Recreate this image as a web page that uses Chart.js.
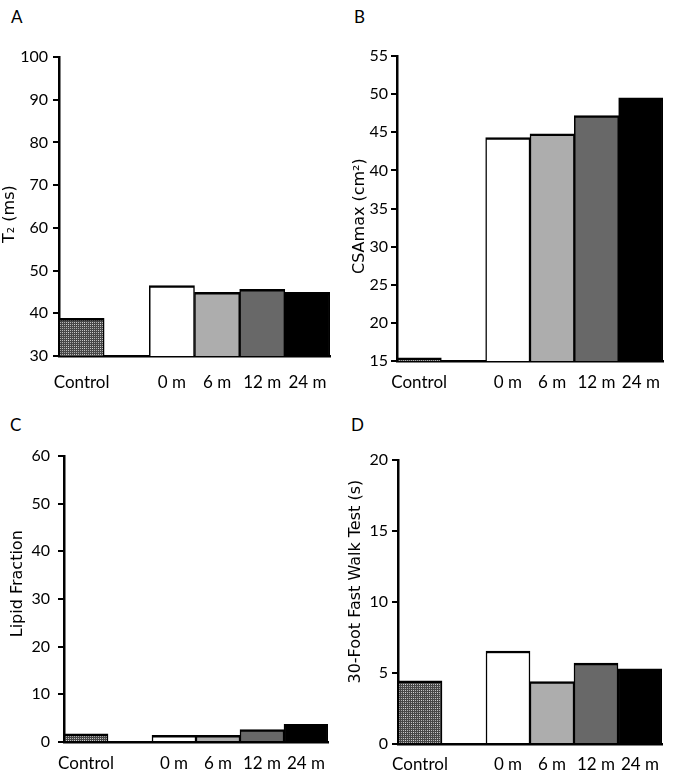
<!DOCTYPE html>
<html><head><meta charset="utf-8">
<script src="https://cdn.jsdelivr.net/npm/chart.js@4.4.1/dist/chart.umd.min.js"></script>
<style>
html,body{margin:0;padding:0;background:#fff;}
body{width:675px;height:784px;position:relative;overflow:hidden;}
canvas{position:absolute;}
.lbl{position:absolute;font:17px Lato, sans-serif;color:#000;line-height:20px;}
</style></head><body>
<div class="lbl" style="left:11px;top:7px">A</div>
<div class="lbl" style="left:354px;top:7px">B</div>
<div class="lbl" style="left:10px;top:415px">C</div>
<div class="lbl" style="left:351px;top:415px">D</div>
<canvas id="cA" width="337" height="400" style="left:0;top:0"></canvas>
<canvas id="cB" width="338" height="400" style="left:337px;top:0"></canvas>
<canvas id="cC" width="337" height="392" style="left:0;top:392px"></canvas>
<canvas id="cD" width="338" height="392" style="left:337px;top:392px"></canvas>
<script>
// ---- data ----
const categories = ['Control', '', '0 m', '6 m', '12 m', '24 m'];
const t2Values = [38.8, null, 46.5, 44.9, 45.6, 44.9];
const csaValues = [15.4, null, 44.3, 44.8, 47.2, 49.5];
const lipidValues = [1.7, null, 1.4, 1.4, 2.6, 3.7];
const walkValues = [4.45, null, 6.55, 4.4, 5.7, 5.3];
const t2Ticks = [30, 40, 50, 60, 70, 80, 90, 100];
const csaTicks = [15, 20, 25, 30, 35, 40, 45, 50, 55];
const lipidTicks = [0, 10, 20, 30, 40, 50, 60];
const walkTicks = [0, 5, 10, 15, 20];
const titles = ['T\u2082 (ms)', 'CSAmax (cm\u00B2)', 'Lipid Fraction', '30-Foot Fast Walk Test (s)'];

// ---- dotted pattern for Control bars ----
function makePattern() {
  const c = document.createElement('canvas');
  c.width = 8; c.height = 8;
  const g = c.getContext('2d');
  g.fillStyle = '#474747';
  g.fillRect(0, 0, 8, 8);
  for (let y = 0; y < 8; y += 2) {
    for (let x = 0; x < 8; x += 2) {
      const d = Math.hypot(x - 3.5, y - 3.5);
      const v = Math.round(225 - d * 14);
      g.fillStyle = 'rgb(' + v + ',' + v + ',' + v + ')';
      g.fillRect(x, y, 1, 1);
    }
  }
  return g.createPattern(c, 'repeat');
}
const pattern = makePattern();
const barColors = [pattern, 'rgba(0,0,0,0)', '#ffffff', '#adadad', '#686868', '#000000'];

// shift = spaces used to move the centred axis title along the axis (+ before, - after)
function shiftText(t, n) {
  return n > 0 ? ' '.repeat(n) + t : t + ' '.repeat(-n);
}

function makeChart(id, values, ticks, title, L) {
  new Chart(document.getElementById(id), {
    type: 'bar',
    data: {
      labels: categories,
      datasets: [{
        data: values,
        backgroundColor: barColors,
        borderColor: '#000',
        borderWidth: {top: 2.5, left: 1.5, right: 1.5, bottom: 0},
        borderSkipped: false,
        barPercentage: 1,
        categoryPercentage: 1
      }]
    },
    options: {
      responsive: false,
      animation: false,
      devicePixelRatio: 1,
      layout: {padding: {left: L.padLeft, right: L.padRight, top: L.padTop, bottom: 0}},
      plugins: {legend: {display: false}, tooltip: {enabled: false}},
      scales: {
        x: {
          grid: {display: false, drawTicks: true, tickLength: L.xPad - 2},
          border: {display: true, color: '#000', width: 2.5},
          ticks: {color: '#000', font: {family: 'Lato', size: 17}, padding: 2, maxRotation: 0, autoSkip: false},
          afterFit: s => { s.height = L.xHeight; }
        },
        y: {
          min: ticks[0],
          max: ticks[ticks.length - 1],
          afterBuildTicks: s => { s.ticks = ticks.map(v => ({value: v})); },
          grid: {display: true, drawOnChartArea: false, drawTicks: true, tickLength: 6, color: '#000', lineWidth: 2},
          border: {display: true, color: '#000', width: 2.5},
          ticks: {color: '#000', font: {family: 'Lato', size: 16}, padding: L.yPad},
          title: {display: true, text: shiftText(title, L.shift), color: '#000', font: {family: 'DejaVu Sans', size: 16}, padding: {top: 0, bottom: 0}},
          afterFit: s => { s.width = L.yWidth; }
        }
      }
    }
  });
}

makeChart('cA', t2Values, t2Ticks, titles[0], {padLeft: 0, yWidth: 59, padRight: 7, padTop: 57, xHeight: 44, xPad: 16, yPad: 5, shift: -3});
makeChart('cB', csaValues, csaTicks, titles[1], {padLeft: 13, yWidth: 47, padRight: 12, padTop: 56, xHeight: 39, xPad: 11, yPad: 3, shift: -3});
makeChart('cC', lipidValues, lipidTicks, titles[2], {padLeft: 8, yWidth: 56, padRight: 9, padTop: 64, xHeight: 42, xPad: 11, yPad: 8, shift: 6});
makeChart('cD', walkValues, walkTicks, titles[3], {padLeft: 9, yWidth: 52, padRight: 13, padTop: 68, xHeight: 40, xPad: 10, yPad: 4, shift: 8});
</script>
</body></html>
